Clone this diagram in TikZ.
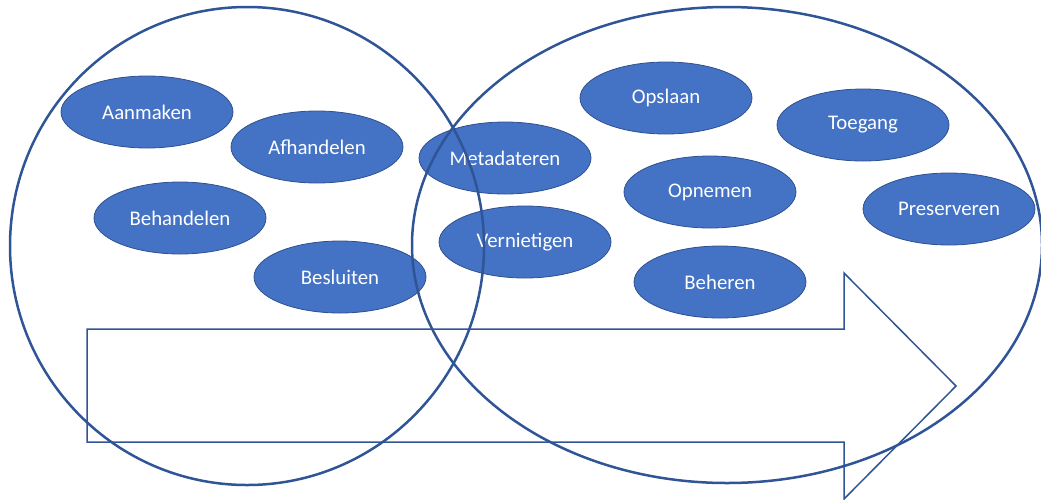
\documentclass[tikz,border=0pt]{standalone}
\usepackage{fontspec}
\setmainfont{Carlito}
\usetikzlibrary{shapes.geometric}
\definecolor{fillblue}{RGB}{68,114,196}
\definecolor{edgeblue}{RGB}{47,82,143}
\definecolor{lineblue}{RGB}{47,85,151}
\tikzset{
  item/.style={ellipse, fill=fillblue, draw=edgeblue, line width=0.8pt,
    minimum width=172pt, minimum height=72pt, inner sep=0pt,
    text=white, font=\fontsize{20.8}{25}\selectfont},
  bigring/.style={ellipse, draw=lineblue, line width=2.5pt, inner sep=0pt},
  flow/.style={draw=lineblue, line width=1.5pt, line join=miter}
}
\begin{document}
\begin{tikzpicture}[x=1pt,y=-1pt]
\useasboundingbox (0,0) rectangle (1041,499);
\clip (0,0) rectangle (1041,499);
\node[item] (aanmaken) at (147,112) {Aanmaken};
\node[item] (afhandelen) at (317,147) {Afhandelen};
\node[item] (behandelen) at (180,218) {Behandelen};
\node[item] (besluiten) at (340,277) {Besluiten};
\node[item] (metadateren) at (505,158) {Metadateren};
\node[item] (vernietigen) at (525,242) {Vernietigen};
\node[item] (opslaan) at (666,98) {Opslaan};
\node[item] (toegang) at (863,125) {Toegang};
\node[item] (opnemen) at (710,192) {Opnemen};
\node[item] (preserveren) at (949,209) {Preserveren};
\node[item] (beheren) at (720,282) {Beheren};
\node[bigring, minimum width=474pt, minimum height=478pt] (links) at (247,246) {};
\node[bigring, minimum width=630pt, minimum height=476pt] (rechts) at (727,245) {};
\coordinate (tip) at (956,386);
\draw[flow] (87,329) -- (844,329) -- (844,273) -- (tip) -- (844,499) -- (844,442) -- (87,442) -- cycle;
\end{tikzpicture}
\end{document}
